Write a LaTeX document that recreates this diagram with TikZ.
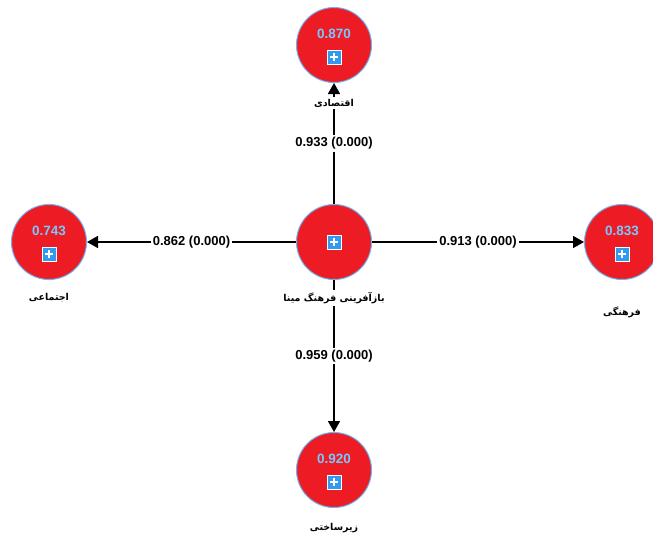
\documentclass[tikz,border=0pt]{standalone}
\usepackage{fontspec}
\setmainfont{Liberation Sans}
\newfontfamily\arabicfont[Script=Arabic]{DejaVu Sans}
\TeXXeTstate=1
\usetikzlibrary{arrows.meta}

\definecolor{lvred}{RGB}{237,28,36}
\definecolor{lvedge}{RGB}{110,180,240}
\definecolor{rsqblue}{RGB}{120,200,255}
\definecolor{iconblue}{RGB}{50,155,240}

\tikzset{
  latent/.style={circle, draw=lvedge, line width=1pt, fill=lvred, minimum size=75pt, inner sep=0pt},
  rsq/.style={font=\fontsize{13.5}{13.5}\selectfont\bfseries, text=rsqblue, inner sep=0pt},
  expand/.style={draw=white, line width=1pt, fill=iconblue, minimum size=14pt, inner sep=0pt,
    path picture={\draw[white, line width=1.5pt]
      ([xshift=-4pt]path picture bounding box.center) -- ([xshift=4pt]path picture bounding box.center)
      ([yshift=-4pt]path picture bounding box.center) -- ([yshift=4pt]path picture bounding box.center);}},
  coef/.style={fill=white, font=\fontsize{13}{13}\selectfont\bfseries, inner sep=2pt},
  lvname/.style={fill=white, font=\arabicfont\fontsize{9.5}{9.5}\selectfont\bfseries, inner sep=2pt},
  link/.style={line width=1.7pt, -{Triangle[length=11pt,width=12pt]}}
}

\begin{document}
\begin{tikzpicture}[x=1pt, y=-1pt]
    \useasboundingbox (0,0) rectangle (653,541);

    % سازه‌ها
    \node[latent] (hub) at (334,242) {};
    \node[latent] (econ) at (334,45) {};
    \node[latent] (social) at (49,242) {};
    \node[latent] (culture) at (622,242) {};
    \node[latent] (infra) at (334,470) {};

    % مقادیر و آیکون‌ها
    \node[expand] (hubicon) at (hub.center) {};
    \node[rsq] (econval) at ([yshift=11pt]econ.center) {0.870};
    \node[expand] (econicon) at ([yshift=-12pt]econ.center) {};
    \node[rsq] (socialval) at ([yshift=11pt]social.center) {0.743};
    \node[expand] (socialicon) at ([yshift=-12pt]social.center) {};
    \node[rsq] (cultureval) at ([yshift=11pt]culture.center) {0.833};
    \node[expand] (cultureicon) at ([yshift=-12pt]culture.center) {};
    \node[rsq] (infraval) at ([yshift=11pt]infra.center) {0.920};
    \node[expand] (infraicon) at ([yshift=-12pt]infra.center) {};

    % مسیرها
    \draw[link] (hub) -- node[coef] {0.933 (0.000)} (econ);
    \draw[link] (hub) -- node[coef] {0.862 (0.000)} (social);
    \draw[link] (hub) -- node[coef] {0.913 (0.000)} (culture);
    \draw[link] (hub) -- node[coef] {0.959 (0.000)} (infra);

    % نام سازه‌ها
    \node[lvname] (hublbl) at (hub.south) [yshift=-18pt] {\beginR بازآفرینی فرهنگ مینا\endR};
    \node[lvname] (econlbl) at (econ.south) [yshift=-20pt] {\beginR اقتصادی\endR};
    \node[lvname] (sociallbl) at (social.south) [yshift=-18pt] {\beginR اجتماعی\endR};
    \node[lvname] (culturelbl) at (culture.south) [yshift=-32pt] {\beginR فرهنگی\endR};
    \node[lvname] (infralbl) at (infra.south) [yshift=-20pt] {\beginR زیرساختی\endR};
\end{tikzpicture}
\end{document}
